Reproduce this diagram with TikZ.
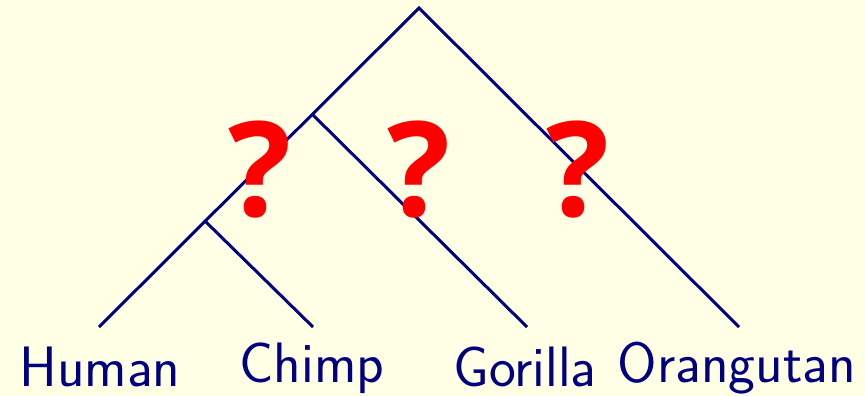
\documentclass[tikz,border=0pt]{standalone}
\usepackage{fontspec}
\newfontfamily\qfont{Open Sans}
\definecolor{bgyel}{RGB}{255,255,229}
\definecolor{navyline}{RGB}{0,0,128}
\definecolor{qred}{RGB}{255,0,0}
\begin{document}
\begin{tikzpicture}[x=1pt,y=-1pt,
  branch/.style={draw=navyline,line width=3pt},
  leaflabel/.style={anchor=base,inner sep=0pt,text=navyline,font=\sffamily\fontsize{57}{64}\selectfont},
  qmark/.style={inner sep=0pt,text=qred,font=\qfont\bfseries\fontsize{132}{140}\selectfont}]
\fill[bgyel] (0,0) rectangle (865,396);
\useasboundingbox (0,0) rectangle (865,396);
\coordinate (root) at (419,8);
\coordinate (hcg) at (313,115);
\coordinate (hc) at (206,222);
\coordinate (human) at (99,327);
\coordinate (chimp) at (313,327);
\coordinate (gorilla) at (527,327);
\coordinate (orang) at (739,327);
\draw[branch] (human) -- (root) -- (orang);
\draw[branch] (hc) -- (chimp);
\draw[branch] (hcg) -- (gorilla);
\node[leaflabel] (lhuman) at (100,386) {Human};
\node[leaflabel] (lchimp) at (312,382) {Chimp};
\node[leaflabel] (lgorilla) at (525,386) {Gorilla};
\node[leaflabel] (lorang) at (737,382) {Orangutan};
\node[qmark,anchor=base] (q1) at (260,216) {?};
\node[qmark,anchor=base] (q2) at (419,216) {?};
\node[qmark,anchor=base] (q3) at (578,216) {?};
\end{tikzpicture}
\end{document}
